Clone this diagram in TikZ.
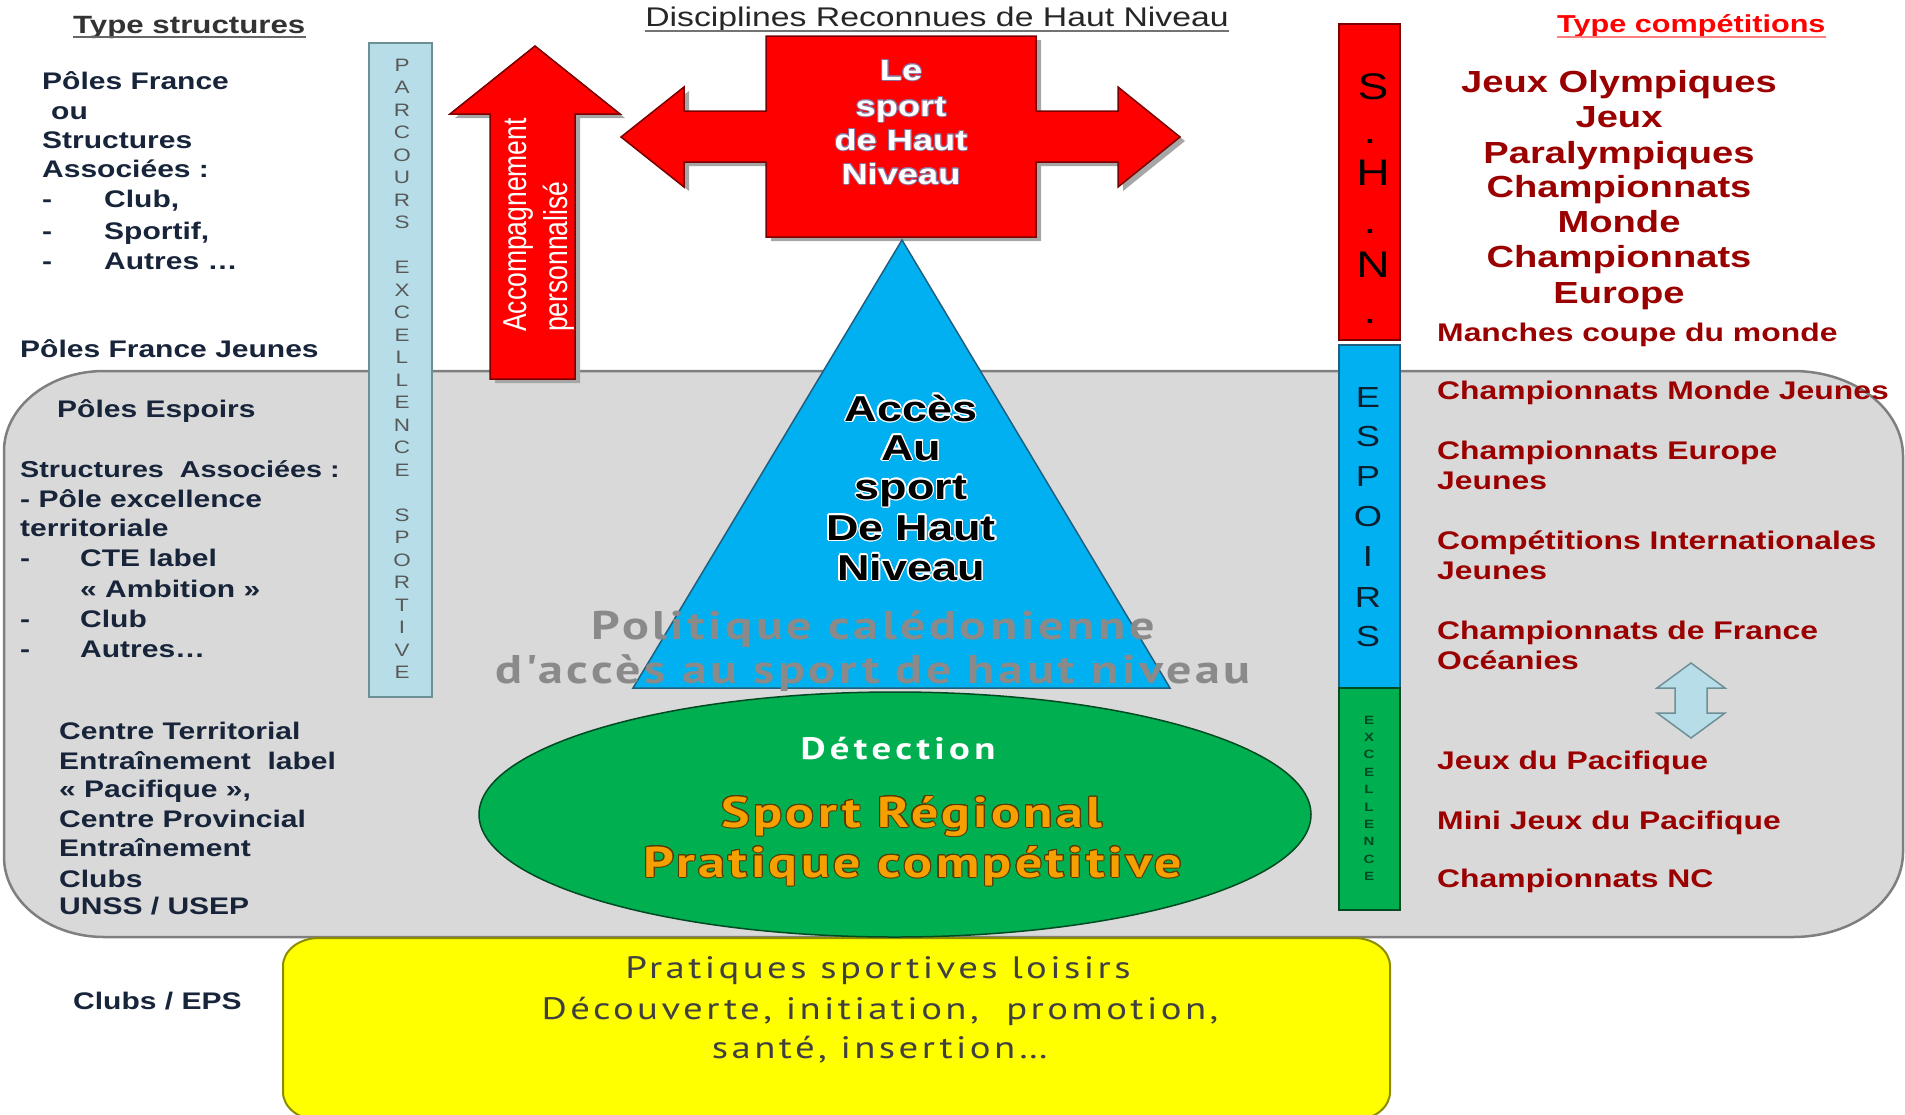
\documentclass[tikz,border=0pt]{standalone}
\usepackage{fontspec}
\usepackage{graphicx}
\usepackage{contour}
\usetikzlibrary{shapes.geometric}
\setmainfont[FakeStretch=1.25]{Liberation Sans}
\newfontfamily\plainsans{Liberation Sans}
\newfontfamily\ptwide[FakeStretch=1.25]{PT Sans}
\newcommand{\fsz}[1]{\fontsize{#1}{#1}\selectfont}
\newcommand{\lsp}[1]{\addfontfeatures{LetterSpace=#1}}
\definecolor{grayfill}{HTML}{D9D9D9}
\definecolor{grayline}{HTML}{7F7F7F}
\definecolor{navy}{HTML}{17243A}
\definecolor{darkred}{HTML}{9A0000}
\definecolor{redfill}{HTML}{FF0000}
\definecolor{redline}{HTML}{7A0000}
\definecolor{paleblue}{HTML}{B7DEE8}
\definecolor{palebluel}{HTML}{6F8F96}
\definecolor{skyblue}{HTML}{00B0F0}
\definecolor{bluedark}{HTML}{1F5F7F}
\definecolor{greenfill}{HTML}{00B050}
\definecolor{greenline}{HTML}{004A22}
\definecolor{yellowfill}{HTML}{FFFF00}
\definecolor{yellowline}{HTML}{8C8C00}
\definecolor{orangetxt}{HTML}{F5A000}
\definecolor{orangeedge}{HTML}{5A3A00}
\definecolor{polgray}{HTML}{8A8A8A}
\definecolor{shadowgray}{HTML}{A6A6A6}
\definecolor{purpleshadow}{HTML}{8E6E98}
\definecolor{lettergray}{HTML}{595959}
\definecolor{espoirtxt}{HTML}{0D1F2D}
\begin{document}
\begin{tikzpicture}[x=1pt,y=-1pt,
  lt/.style={anchor=base west, inner sep=0pt, text=navy, font=\fsz{24}\bfseries},
  rt/.style={anchor=base west, inner sep=0pt, text=darkred, font=\fsz{25.5}\bfseries},
  rtc/.style={anchor=base, inner sep=0pt, text=darkred, font=\fsz{30.5}\bfseries},
  pl/.style={inner sep=0pt, text=lettergray, font=\fsz{18}},
  shnl/.style={inner sep=0pt, text=black, font=\fsz{37}},
  espl/.style={inner sep=0pt, text=espoirtxt, font=\fsz{29}},
  excl/.style={inner sep=0pt, text=greenline, font=\fsz{12}\bfseries},
  ct/.style={anchor=base, inner sep=0pt, text=white, font=\fsz{29}\bfseries},
  tt/.style={anchor=base, inner sep=0pt, text=black, font=\fsz{36}\bfseries},
  yt/.style={anchor=base, inner sep=0pt, text=black!75, font=\ptwide\fsz{31}\lsp{11}},
  bar/.style={line width=2pt}
]
\useasboundingbox (0,0) rectangle (1905,1114);

% gray region
\path[fill=grayfill, draw=grayline, line width=2.5pt]
 (4,451) .. controls (4,407) and (49,371) .. (104,371)
 -- (1793,371) .. controls (1854,371) and (1903,409) .. (1903,456)
 -- (1903,852) .. controls (1903,899) and (1854,937) .. (1793,937)
 -- (104,937) .. controls (49,937) and (4,901) .. (4,857) -- cycle;

% yellow box
\path[fill=yellowfill, draw=yellowline, line width=2pt]
 (283,966) .. controls (283,950.5) and (299,938) .. (319,938)
 -- (1354,938) .. controls (1374,938) and (1390,950.5) .. (1390,966)
 -- (1390,1092) .. controls (1390,1107.5) and (1374,1120) .. (1354,1120)
 -- (319,1120) .. controls (299,1120) and (283,1107.5) .. (283,1092) -- cycle;

% PARCOURS bar
\path[bar, fill=paleblue, draw=palebluel] (369,43) rectangle (432,697);
\foreach \c [count=\i from 0] in {P,A,R,C,O,U,R,S}
  \node[pl] (pa\i) at (402,{65+22.5*\i}) {\c};
\foreach \c [count=\i from 9] in {E,X,C,E,L,L,E,N,C,E}
  \node[pl] (pb\i) at (402,{65+22.5*\i}) {\c};
\foreach \c [count=\i from 20] in {S,P,O,R,T,I,V,E}
  \node[pl] (pd\i) at (402,{65+22.5*\i}) {\c};

% red up arrow
\fill[shadowgray, shift={(5,4)}] (490,379) -- (490,114) -- (450,114) -- (535,46) -- (620,114) -- (575,114) -- (575,379) -- cycle;
\path[fill=redfill, draw=redline, line width=1.5pt] (490,379) -- (490,114) -- (450,114) -- (535,46) -- (620,114) -- (575,114) -- (575,379) -- cycle;
\node[rotate=90, anchor=west, inner sep=0pt, text=white, font=\plainsans\fsz{26.5}] (acc1) at (519,332) {\scalebox{1}[1.25]{Accompagnement}};
\node[rotate=90, anchor=west, inner sep=0pt, text=white, font=\plainsans\fsz{26.5}] (acc2) at (559,332) {\scalebox{1}[1.25]{personnalisé}};

% red cross arrow
\fill[shadowgray, shift={(5,4)}] (621,137) -- (684,87) -- (684,111) -- (766,111) -- (766,36) -- (1036,36) -- (1036,111) -- (1118,111) -- (1118,87) -- (1180,137) -- (1118,187) -- (1118,162) -- (1036,162) -- (1036,237) -- (766,237) -- (766,162) -- (684,162) -- (684,187) -- cycle;
\path[fill=redfill, draw=redline, line width=1.5pt] (621,137) -- (684,87) -- (684,111) -- (766,111) -- (766,36) -- (1036,36) -- (1036,111) -- (1118,111) -- (1118,87) -- (1180,137) -- (1118,187) -- (1118,162) -- (1036,162) -- (1036,237) -- (766,237) -- (766,162) -- (684,162) -- (684,187) -- cycle;
\contourlength{1pt}
\node[ct] (le1) at (901,80) {\contour{purpleshadow}{Le}};
\node[ct] (le2) at (901,116) {\contour{purpleshadow}{sport}};
\node[ct] (le3) at (901,150) {\contour{purpleshadow}{de Haut}};
\node[ct] (le4) at (901,184) {\contour{purpleshadow}{Niveau}};

% triangle
\path[fill=skyblue, draw=bluedark, line width=1.5pt] (902,240) -- (1170,688) -- (633,688) -- cycle;
\contourlength{1.3pt}
\node[tt] (ac1) at (911,421) {\contour{white}{Accès}};
\node[tt] (ac2) at (911,460) {\contour{white}{Au}};
\node[tt] (ac3) at (911,499) {\contour{white}{sport}};
\node[tt] (ac4) at (911,540) {\contour{white}{De Haut}};
\node[tt] (ac5) at (911,580) {\contour{white}{Niveau}};

% ellipse
\node[ellipse, draw=greenline, fill=greenfill, line width=1.5pt, minimum width=832pt, minimum height=245pt, inner sep=0pt] (ell) at (895,814.5) {};
\node[anchor=base, inner sep=0pt, text=white, font=\ptwide\fsz{31}\bfseries\lsp{14}] (det) at (898,759) {Détection};
\contourlength{1pt}
\node[anchor=base, inner sep=0pt, text=orangetxt, font=\ptwide\fsz{43}\bfseries\lsp{8}] (sr) at (912,827) {\contour{orangeedge}{Sport Régional}};
\node[anchor=base, inner sep=0pt, text=orangetxt, font=\ptwide\fsz{43}\bfseries\lsp{8}] (pcomp) at (913,877) {\contour{orangeedge}{Pratique compétitive}};

% politique text
\node[anchor=base, inner sep=0pt, text=polgray, font=\ptwide\fsz{40}\bfseries\lsp{9}] (pol1) at (873,639) {Politique calédonienne};
\node[anchor=base, inner sep=0pt, text=polgray, font=\ptwide\fsz{40}\bfseries\lsp{9}] (pol2) at (873,683) {d'accès au sport de haut niveau};

% yellow texts
\node[yt] (y1) at (878,978) {Pratiques sportives loisirs};
\node[yt] (y2) at (880,1019) {Découverte, initiation,\ \ promotion,};
\node[yt] (y3) at (880,1058) {santé, insertion…};

% right bars
\path[bar, fill=redfill, draw=redline] (1339,24) rectangle (1400,340);
\path[bar, fill=skyblue, draw=bluedark] (1339,345) rectangle (1400,688);
\path[bar, fill=greenfill, draw=greenline] (1339,688) rectangle (1400,910);
\node[shnl] (s1) at (1373,87) {S};
\node[shnl] (s2) at (1370,142) {.};
\node[shnl] (s3) at (1373,173) {H};
\node[shnl] (s4) at (1370,232) {.};
\node[shnl] (s5) at (1373,265) {N};
\node[shnl] (s6) at (1370,322) {.};
\foreach \c/\yy [count=\i] in {E/398,S/437,P/477,O/517,I/557,R/598,S/637}
  \node[espl] (es\i) at (1368,\yy) {\c};
\foreach \c [count=\i from 0] in {E,X,C,E,L,L,E,N,C,E}
  \node[excl] (ex\i) at (1369,{720+17.4*\i}) {\c};

% titles
\node[anchor=base west, inner sep=0pt, font=\fsz{25}\bfseries, text=black!80] (ts) at (73,33) {Type structures};
\draw[line width=2pt, black!60] ([yshift=-4pt]ts.base west) -- ([yshift=-4pt]ts.base east);
\node[anchor=base, inner sep=0pt, font=\fsz{27}, text=black!85] (disc) at (937,26) {Disciplines Reconnues de Haut Niveau};
\draw[line width=2pt, black!55] ([yshift=-5pt]disc.base west) -- ([yshift=-5pt]disc.base east);
\node[anchor=base west, inner sep=0pt, font=\fsz{24.5}\bfseries, text=red] (tc) at (1557,32) {Type compétitions};
\draw[line width=2pt, red!50] ([yshift=-5pt]tc.base west) -- ([yshift=-5pt]tc.base east);

% left column
\node[lt] (t1) at (42,89) {Pôles France};
\node[lt] (t2) at (51,119) {ou};
\node[lt] (t3) at (42,148) {Structures};
\node[lt] (t4) at (42,177) {Associées :};
\node[lt] (d1) at (42,207) {-};
\node[lt] (t5) at (104,207) {Club,};
\node[lt] (d2) at (42,239) {-};
\node[lt] (t6) at (104,239) {Sportif,};
\node[lt] (d3) at (42,269) {-};
\node[lt] (t7) at (104,269) {Autres …};
\node[lt] (t8) at (20,357) {Pôles France Jeunes};
\node[lt] (t9) at (57,417) {Pôles Espoirs};
\node[lt, font=\fsz{23}\bfseries] (t10) at (20,477) {Structures\ \ Associées :};
\node[lt] (t11) at (20,507) {- Pôle excellence};
\node[lt] (t12) at (20,536) {territoriale};
\node[lt] (d4) at (20,566) {-};
\node[lt] (t13) at (80,566) {CTE label};
\node[lt] (t14) at (80,597) {« Ambition »};
\node[lt] (d5) at (20,627) {-};
\node[lt] (t15) at (80,627) {Club};
\node[lt] (d6) at (20,657) {-};
\node[lt] (t16) at (80,657) {Autres…};
\node[lt] (t17) at (59,739) {Centre Territorial};
\node[lt] (t18) at (59,769) {Entraînement\ \ label};
\node[lt] (t19) at (59,797) {« Pacifique »,};
\node[lt] (t20) at (59,827) {Centre Provincial};
\node[lt] (t21) at (59,856) {Entraînement};
\node[lt] (t22) at (59,887) {Clubs};
\node[lt] (t23) at (59,914) {UNSS / USEP};
\node[lt] (t24) at (73,1009) {Clubs / EPS};

% right column
\node[rtc] (r1) at (1619,92) {Jeux Olympiques};
\node[rtc] (r2) at (1619,127) {Jeux};
\node[rtc] (r3) at (1619,163) {Paralympiques};
\node[rtc] (r4) at (1619,197) {Championnats};
\node[rtc] (r5) at (1619,232) {Monde};
\node[rtc] (r6) at (1619,267) {Championnats};
\node[rtc] (r7) at (1619,303) {Europe};
\node[rt] (r8) at (1437,341) {Manches coupe du monde};
\node[rt] (r9) at (1437,399) {Championnats Monde Jeunes};
\node[rt] (r10) at (1437,459) {Championnats Europe};
\node[rt] (r11) at (1437,489) {Jeunes};
\node[rt] (r12) at (1437,549) {Compétitions Internationales};
\node[rt] (r13) at (1437,579) {Jeunes};
\node[rt] (r14) at (1437,639) {Championnats de France};
\node[rt] (r15) at (1437,669) {Océanies};
\node[rt] (r16) at (1437,769) {Jeux du Pacifique};
\node[rt] (r17) at (1437,829) {Mini Jeux du Pacifique};
\node[rt] (r18) at (1437,887) {Championnats NC};

% light blue double arrow
\path[fill=paleblue, draw=palebluel, line width=1.5pt] (1691,663) -- (1725,688) -- (1707,688) -- (1707,713) -- (1725,713) -- (1691,738) -- (1657,713) -- (1675,713) -- (1675,688) -- (1657,688) -- cycle;
\end{tikzpicture}
\end{document}
